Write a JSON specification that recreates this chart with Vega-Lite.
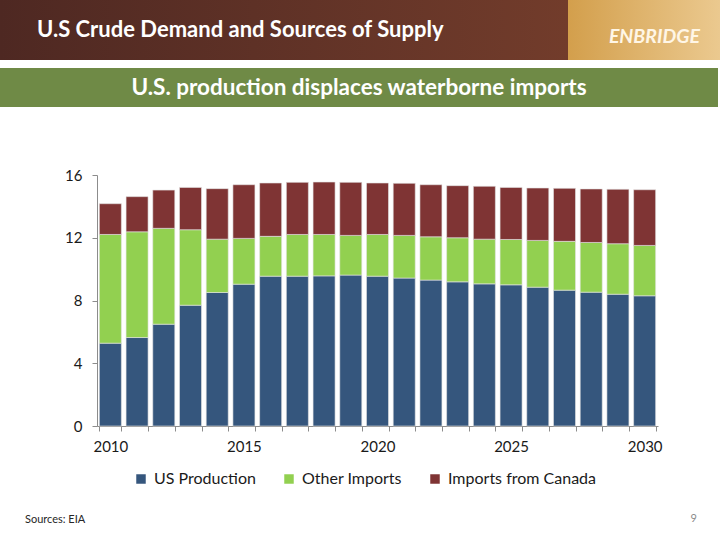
{
  "$schema": "https://vega.github.io/schema/vega-lite/v6.json",
  "background": "white",
  "padding": 0,
  "spacing": 0,
  "bounds": "flush",
  "config": {
    "view": {"stroke": null},
    "font": "Lato"
  },
  "datasets": {
    "blank": [{"t": ""}],
    "supply": [
      {"year": 2010, "series": "US Production", "value": 5.28},
      {"year": 2010, "series": "Other Imports", "value": 6.93},
      {"year": 2010, "series": "Imports from Canada", "value": 1.96},
      {"year": 2011, "series": "US Production", "value": 5.64},
      {"year": 2011, "series": "Other Imports", "value": 6.74},
      {"year": 2011, "series": "Imports from Canada", "value": 2.24},
      {"year": 2012, "series": "US Production", "value": 6.49},
      {"year": 2012, "series": "Other Imports", "value": 6.11},
      {"year": 2012, "series": "Imports from Canada", "value": 2.44},
      {"year": 2013, "series": "US Production", "value": 7.70},
      {"year": 2013, "series": "Other Imports", "value": 4.81},
      {"year": 2013, "series": "Imports from Canada", "value": 2.70},
      {"year": 2014, "series": "US Production", "value": 8.51},
      {"year": 2014, "series": "Other Imports", "value": 3.40},
      {"year": 2014, "series": "Imports from Canada", "value": 3.22},
      {"year": 2015, "series": "US Production", "value": 9.04},
      {"year": 2015, "series": "Other Imports", "value": 2.92},
      {"year": 2015, "series": "Imports from Canada", "value": 3.42},
      {"year": 2016, "series": "US Production", "value": 9.55},
      {"year": 2016, "series": "Other Imports", "value": 2.54},
      {"year": 2016, "series": "Imports from Canada", "value": 3.40},
      {"year": 2017, "series": "US Production", "value": 9.55},
      {"year": 2017, "series": "Other Imports", "value": 2.66},
      {"year": 2017, "series": "Imports from Canada", "value": 3.32},
      {"year": 2018, "series": "US Production", "value": 9.57},
      {"year": 2018, "series": "Other Imports", "value": 2.64},
      {"year": 2018, "series": "Imports from Canada", "value": 3.34},
      {"year": 2019, "series": "US Production", "value": 9.62},
      {"year": 2019, "series": "Other Imports", "value": 2.53},
      {"year": 2019, "series": "Imports from Canada", "value": 3.38},
      {"year": 2020, "series": "US Production", "value": 9.55},
      {"year": 2020, "series": "Other Imports", "value": 2.66},
      {"year": 2020, "series": "Imports from Canada", "value": 3.28},
      {"year": 2021, "series": "US Production", "value": 9.43},
      {"year": 2021, "series": "Other Imports", "value": 2.72},
      {"year": 2021, "series": "Imports from Canada", "value": 3.32},
      {"year": 2022, "series": "US Production", "value": 9.30},
      {"year": 2022, "series": "Other Imports", "value": 2.76},
      {"year": 2022, "series": "Imports from Canada", "value": 3.32},
      {"year": 2023, "series": "US Production", "value": 9.19},
      {"year": 2023, "series": "Other Imports", "value": 2.81},
      {"year": 2023, "series": "Imports from Canada", "value": 3.32},
      {"year": 2024, "series": "US Production", "value": 9.06},
      {"year": 2024, "series": "Other Imports", "value": 2.85},
      {"year": 2024, "series": "Imports from Canada", "value": 3.37},
      {"year": 2025, "series": "US Production", "value": 9.00},
      {"year": 2025, "series": "Other Imports", "value": 2.89},
      {"year": 2025, "series": "Imports from Canada", "value": 3.32},
      {"year": 2026, "series": "US Production", "value": 8.85},
      {"year": 2026, "series": "Other Imports", "value": 2.98},
      {"year": 2026, "series": "Imports from Canada", "value": 3.34},
      {"year": 2027, "series": "US Production", "value": 8.66},
      {"year": 2027, "series": "Other Imports", "value": 3.11},
      {"year": 2027, "series": "Imports from Canada", "value": 3.38},
      {"year": 2028, "series": "US Production", "value": 8.53},
      {"year": 2028, "series": "Other Imports", "value": 3.17},
      {"year": 2028, "series": "Imports from Canada", "value": 3.41},
      {"year": 2029, "series": "US Production", "value": 8.40},
      {"year": 2029, "series": "Other Imports", "value": 3.22},
      {"year": 2029, "series": "Imports from Canada", "value": 3.47},
      {"year": 2030, "series": "US Production", "value": 8.30},
      {"year": 2030, "series": "Other Imports", "value": 3.21},
      {"year": 2030, "series": "Imports from Canada", "value": 3.55}
    ]
  },
  "vconcat": [
    {
      "width": 720, "height": 60,
      "view": {"stroke": null, "fill": {"gradient": "linear", "x1": 0, "y1": 0, "x2": 1, "y2": 0, "stops": [{"offset": 0, "color": "#4e2822"}, {"offset": 0.789, "color": "#723c2b"}, {"offset": 0.789, "color": "#d39f4c"}, {"offset": 1, "color": "#ebc98f"}]}},
      "title": {"text": "U.S Crude Demand and Sources of Supply", "orient": "top", "anchor": "start", "frame": "group", "offset": -59, "dx": 37, "baseline": "alphabetic", "color": "white", "fontSize": 22, "fontWeight": "bold", "font": "Lato"},
      "data": {"name": "blank"},
      "mark": "text",
      "encoding": {"text": {"field": "t"}}
    },
    {
      "width": 720, "height": 8,
      "title": {"text": "ENBRIDGE", "orient": "top", "anchor": "end", "frame": "group", "offset": -4, "dx": -20, "baseline": "alphabetic", "color": "#fff6e6", "fontSize": 19.5, "fontWeight": "bold", "fontStyle": "italic", "font": "Lato"},
      "data": {"name": "blank"},
      "mark": "text",
      "encoding": {"text": {"field": "t"}}
    },
    {
      "width": 718, "height": 39,
      "view": {"stroke": null, "fill": "#6f8a46"},
      "data": {"values": [{"t": "U.S. production displaces waterborne imports"}]},
      "mark": {"type": "text", "color": "white", "fontSize": 22.5, "fontWeight": "bold", "font": "Lato", "baseline": "middle", "align": "center"},
      "encoding": {"text": {"field": "t"}}
    },
    {
      "width": 720, "height": 68,
      "title": {"text": "9", "orient": "bottom", "anchor": "end", "frame": "group", "offset": 338, "dx": -23, "color": "#8c8c8c", "fontSize": 11, "fontWeight": "normal", "font": "Lato"},
      "data": {"name": "blank"},
      "mark": "text",
      "encoding": {"text": {"field": "t"}}
    },
    {
      "width": 720, "height": 251,
      "data": {"name": "supply"},
      "mark": {"type": "bar", "stroke": "#e4e4e4", "strokeWidth": 0.6},
      "encoding": {
        "x": {
          "field": "year", "type": "ordinal",
          "scale": {"range": [97, 658], "paddingInner": 0.176, "paddingOuter": 0.088},
          "axis": {"title": null, "labelAngle": 0, "labelExpr": "datum.value % 5 === 0 ? datum.label : ''", "labelOverlap": false, "tickBand": "extent", "domainColor": "#8c8c8c", "tickColor": "#8c8c8c", "tickSize": 5, "labelFontSize": 15, "labelColor": "#1a1a1a", "labelPadding": 8, "labelFont": "Lato"}
        },
        "y": {
          "field": "value", "type": "quantitative", "stack": "zero",
          "scale": {"domain": [0, 16], "nice": false},
          "axis": {"title": null, "offset": -97, "values": [0, 4, 8, 12, 16], "grid": false, "domainColor": "#8c8c8c", "tickColor": "#8c8c8c", "tickSize": 5, "labelFontSize": 15, "labelColor": "#1a1a1a", "labelPadding": 10, "labelFont": "Lato"}
        },
        "color": {
          "field": "series", "type": "nominal",
          "scale": {"domain": ["US Production", "Other Imports", "Imports from Canada"], "range": ["#35567d", "#92d050", "#7f3434"]},
          "legend": {"title": null, "orient": "none", "legendX": 133, "legendY": 471, "direction": "horizontal", "gridAlign": "none", "symbolType": "square", "symbolSize": 90, "symbolStrokeWidth": 0, "labelFontSize": 16, "labelColor": "#1a1a1a", "labelFont": "Lato", "columnPadding": 25, "labelOffset": 5}
        },
        "order": {"field": "series", "sort": "descending"}
      }
    },
    {
      "width": 720, "height": 114,
      "title": {"text": "Sources: EIA", "orient": "bottom", "anchor": "start", "frame": "group", "offset": -26, "dx": 25, "color": "#262626", "fontSize": 11, "fontWeight": "normal", "font": "Lato"},
      "data": {"name": "blank"},
      "mark": "text",
      "encoding": {"text": {"field": "t"}}
    }
  ]
}
